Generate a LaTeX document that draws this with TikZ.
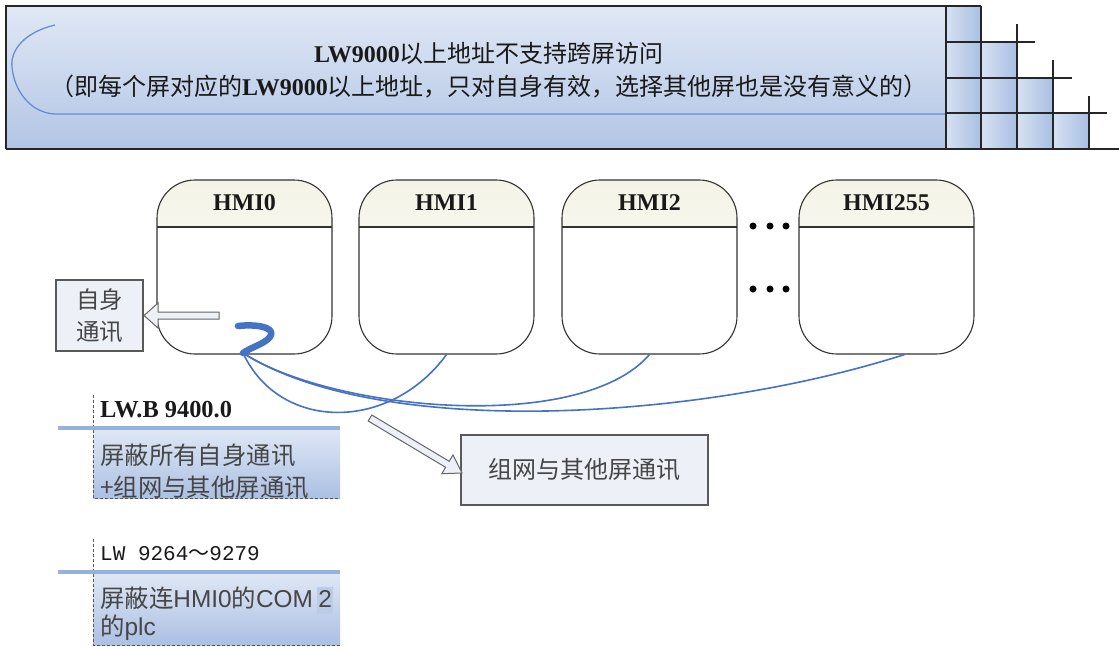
\documentclass[tikz,border=0pt]{standalone}
\usepackage{fontspec}
\setmainfont{Liberation Serif}
\newfontfamily\cjk{Noto Sans CJK SC}
\newfontfamily\arialf{Liberation Sans}
\newfontfamily\monof{Liberation Mono}
\usetikzlibrary{calc}
\definecolor{bannerTop}{RGB}{224,232,245}
\definecolor{bannerBot}{RGB}{178,197,229}
\definecolor{cellA}{RGB}{214,225,242}
\definecolor{cellB}{RGB}{168,190,226}
\definecolor{hmiTop}{RGB}{243,243,230}
\definecolor{boxFill}{RGB}{238,240,248}
\definecolor{txtGray}{RGB}{70,70,70}
\definecolor{lineBlue}{RGB}{68,114,196}
\definecolor{annLine}{RGB}{149,179,215}
\definecolor{annTop}{RGB}{222,231,244}
\definecolor{annBot}{RGB}{172,192,227}
\definecolor{hiBlue}{RGB}{188,204,230}
\begin{document}
\begin{tikzpicture}[x=1pt,y=-1pt,
  gridline/.style={draw=black!85,line width=1.3pt},
  hmibox/.style={draw=black!80,line width=1.1pt,rounded corners=38pt,
    minimum width=175pt,minimum height=174pt,fill=white,inner sep=0pt,
    path picture={
      \shade[sharp corners,top color=hmiTop,bottom color=white]
        ([yshift=2pt]path picture bounding box.north west) rectangle
        ([yshift=-47pt]path picture bounding box.north east);
      \draw[sharp corners,black!80,line width=1.1pt]
        ([yshift=-47pt]path picture bounding box.north west) --
        ([yshift=-47pt]path picture bounding box.north east);}},
  hmilabel/.style={font=\fontsize{24}{24}\selectfont\bfseries,inner sep=0pt,text=black!90},
  graybox/.style={draw=black!65,line width=1.1pt,fill=boxFill,text=txtGray,
    font=\cjk\fontsize{23.5}{32}\selectfont,align=center,inner sep=0pt},
  hollow/.style={draw=black!60,line width=1pt,fill=boxFill},
  squig/.style={draw=lineBlue,line width=6.5pt,line cap=round,line join=round},
  link/.style={draw=lineBlue,line width=1.6pt},
  anntxt/.style={anchor=west,inner sep=0pt,text=txtGray,font=\cjk\fontsize{24.4}{24}\selectfont},
  annlabel/.style={anchor=west,inner sep=0pt,text=black!90},
  annline/.style={draw=annLine,line width=4pt},
  dashline/.style={draw=black!65,line width=1pt,dash pattern=on 3pt off 2pt},
  titletext/.style={inner sep=0pt,text=black!90,font=\fontsize{24}{24}\selectfont}
]
\useasboundingbox (0,0) rectangle (1119,646);
% ---- banner ----
\shade[top color=bannerTop,bottom color=bannerBot] (6,6) rectangle (946,149);
\draw[lineBlue!80,line width=1.3pt] (55,25) .. controls (25,32) and (10,50) .. (12,67)
   .. controls (14,90) and (30,113) .. (55,114) -- (946,114);
% grid cells
\foreach \c/\r in {0/0,0/1,1/1,0/2,1/2,2/2,0/3,1/3,2/3,3/3}{
  \pgfmathsetmacro{\xa}{946+35.75*\c}
  \pgfmathsetmacro{\xb}{946+35.75*(\c+1)}
  \pgfmathsetmacro{\ya}{6+35.75*\r}
  \pgfmathsetmacro{\yb}{6+35.75*(\r+1)}
  \shade[left color=cellA,right color=cellB] (\xa,\ya) rectangle (\xb,\yb);
}
\draw[gridline] (6,149) -- (6,6) -- (981,6);
\draw[gridline] (6,149) -- (1119,149);
\draw[gridline] (946,6) -- (946,149);
\draw[gridline] (981,6) -- (981,149);
\draw[gridline] (1017,24) -- (1017,149);
\draw[gridline] (1053,60) -- (1053,149);
\draw[gridline] (1089,96) -- (1089,149);
\draw[gridline] (946,42) -- (1035,42);
\draw[gridline] (946,78) -- (1072,78);
\draw[gridline] (946,113) -- (1107,113);
\node[titletext] (t1) at (489,53) {\textbf{LW9000}{\cjk 以上地址不支持跨屏访问}};
\node[titletext] (t2) at (489,87) {{\cjk （即每个屏对应的}\textbf{LW9000}{\cjk 以上地址，只对自身有效，选择其他屏也是没有意义的）}};
% ---- HMI boxes ----
\node[hmibox] (h0) at (244.5,267) {};
\node[hmibox] (h1) at (446.5,267) {};
\node[hmibox] (h2) at (649.5,267) {};
\node[hmibox] (h255) at (886.5,267) {};
\node[hmilabel] (l0) at ([yshift=-23pt]h0.north) {HMI0};
\node[hmilabel] (l1) at ([yshift=-23pt]h1.north) {HMI1};
\node[hmilabel] (l2) at ([yshift=-23pt]h2.north) {HMI2};
\node[hmilabel] (l255) at ([yshift=-23pt]h255.north) {HMI255};
\foreach \x in {753,770,786}{
  \fill[black] (\x,226) circle (3.5pt);
  \fill[black] (\x,289) circle (3.5pt);
}
% ---- self box and arrow ----
\node[graybox,minimum width=87pt,minimum height=71pt] (self) at (99.5,315.5) {自身\\通讯};
\draw[hollow] (219,312) -- (158,312) -- (158,303) -- (144,315.5) -- (158,328) -- (158,319) -- (219,319) -- cycle;
% ---- squiggle and links ----
\coordinate (sqs) at (238,326);
\coordinate (sq) at (243,353);
\draw[squig] (sqs) .. controls (256,324) and (274,327) .. (271,335) .. controls (268,343) and (251,347) .. (sq);
\draw[link] (sq) .. controls (280,432) and (390,432) .. (h1.south);
\draw[link] (sq) .. controls (330,410) and (580,435) .. (h2.south);
\draw[link] (sq) .. controls (380,440) and (700,420) .. ($(h255.south)+(18,0)$);
% ---- network box and arrow ----
\node[graybox,minimum width=247pt,minimum height=70pt,font=\cjk\fontsize{24}{24}\selectfont] (net) at (584.5,470) {组网与其他屏通讯};
\draw[hollow] (371.8,415.0) -- (449.2,461.3) -- (453.0,454.9) -- (462,473) -- (441.8,473.7) -- (445.6,467.3) -- (368.2,421.0) -- cycle;
% ---- annotation 1 ----
\shade[top color=annTop,bottom color=annBot] (93,430) rectangle (340,498);
\draw[dashline] (93,395) -- (93,498) -- (340,498);
\draw[annline] (58,428) -- (340,428);
\node[annlabel,font=\fontsize{24.4}{24}\selectfont\bfseries] (a1) at (100,410) {LW.B 9400.0};
\node[anntxt] (a1t1) at (100,455) {屏蔽所有自身通讯};
\node[anntxt] (a1t2) at (100,487) {+组网与其他屏通讯};
% ---- annotation 2 ----
\shade[top color=annTop,bottom color=annBot] (93,574) rectangle (340,645);
\draw[dashline] (93,539) -- (93,645) -- (340,645);
\draw[annline] (58,572) -- (340,572);
\node[annlabel,font=\fontsize{21}{21}\selectfont] (a2) at (100,554) {{\monof LW 9264}{\cjk ～}{\monof 9279}};
\node[anntxt] (a2t1) at (100,598) {屏蔽连{\arialf HMI0}的{\arialf COM}};
\node[anntxt,anchor=base west,fill=hiBlue,inner xsep=1pt,inner ysep=3pt,text depth=4pt] (a2t1b) at ([xshift=4pt]a2t1.base east) {\arialf 2};
\node[anntxt] (a2t2) at (100,628) {的{\arialf plc}};
\end{tikzpicture}
\end{document}
